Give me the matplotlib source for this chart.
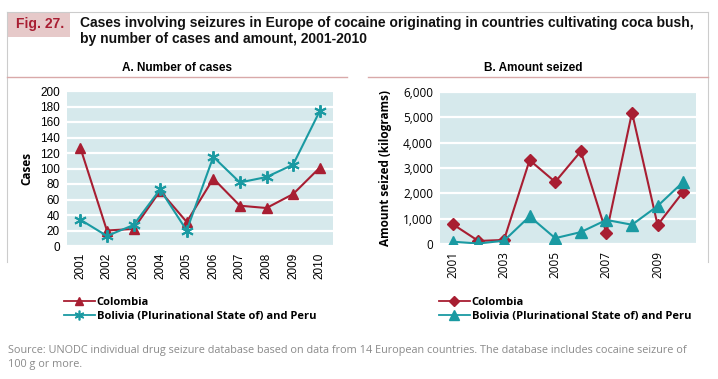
import matplotlib
matplotlib.use("Agg")
import matplotlib.pyplot as plt
from matplotlib.lines import Line2D
from matplotlib.patches import Rectangle

years = [2001, 2002, 2003, 2004, 2005, 2006, 2007, 2008, 2009, 2010]
cases_colombia = [127, 20, 22, 71, 31, 87, 52, 49, 67, 101]
cases_bolivia_peru = [34, 13, 27, 73, 20, 115, 82, 89, 105, 174]
amount_colombia = [780, 120, 160, 3310, 2450, 3660, 430, 5190, 750, 2060]
amount_bolivia_peru = [90, 20, 130, 1090, 230, 470, 950, 760, 1500, 2450]
cases_yticks = list(range(0, 201, 20))
amount_yticks = [0, 1000, 2000, 3000, 4000, 5000, 6000]
amount_xticks = [2001, 2003, 2005, 2007, 2009]
series_labels = ["Colombia", "Bolivia (Plurinational State of) and Peru"]

RED = "#A81E32"
TEAL = "#1A9AA2"
BG = "#D6E9EC"
LINE_PINK = "#D9A9A9"
FR = "#CCCCCC"
ASTER = (6, 2, 0)

W, H = 718, 379
fig = plt.figure(figsize=(W / 100, H / 100), dpi=100)

def fx(x):
    return x / W

def fy(y):
    return 1 - y / H

# frame and header
fig.add_artist(Line2D([fx(7), fx(708)], [fy(12), fy(12)], color=FR, lw=0.8))
fig.add_artist(Line2D([fx(7), fx(7)], [fy(12), fy(262)], color=FR, lw=0.8))
fig.add_artist(Line2D([fx(708), fx(708)], [fy(12), fy(262)], color=FR, lw=0.8))
fig.add_artist(Rectangle((fx(7), fy(37)), fx(63), 25 / H, color="#E6C9C9", lw=0))
fig.text(fx(16), fy(24), "Fig. 27.", color=RED, fontsize=10, fontweight="bold",
         family="Liberation Sans", va="center", ha="left")
fig.text(fx(80), fy(23), "Cases involving seizures in Europe of cocaine originating in countries cultivating coca bush,",
         fontsize=10, fontweight="bold", family="Liberation Sans", va="center", ha="left", color="#111111")
fig.text(fx(80), fy(39), "by number of cases and amount, 2001-2010",
         fontsize=10, fontweight="bold", family="Liberation Sans", va="center", ha="left", color="#111111")

# panel titles
fig.text(fx(177), fy(68), "A. Number of cases", fontsize=8.5, fontweight="bold",
         family="Liberation Sans", ha="center", va="center")
fig.text(fx(533), fy(68), "B. Amount seized", fontsize=8.5, fontweight="bold",
         family="Liberation Sans", ha="center", va="center")
fig.add_artist(Line2D([fx(7), fx(347)], [fy(76.5), fy(76.5)], color=LINE_PINK, lw=1))
fig.add_artist(Line2D([fx(368), fx(708)], [fy(76.5), fy(76.5)], color=LINE_PINK, lw=1))

# Axes A
axA = fig.add_axes([fx(67), fy(246), (333 - 67) / W, (246 - 91) / H])
axA.set_facecolor(BG)
axA.plot(years, cases_colombia, color=RED, lw=1.5, marker="^", ms=7, zorder=3)
axA.plot(years, cases_bolivia_peru, color=TEAL, lw=1.5, marker=ASTER, ms=9, mew=1.4, zorder=3)
axA.set_xlim(2000.5, 2010.5)
axA.set_ylim(0, 200)
axA.set_yticks(cases_yticks)
axA.set_xticks(years)
axA.set_xticklabels([str(y) for y in years], rotation=90, family="Liberation Sans", fontsize=8.5)
axA.set_yticklabels([str(v) for v in cases_yticks], family="Liberation Sans", fontsize=8.5)
axA.grid(axis="y", color="white", lw=1.6)
axA.set_axisbelow(True)
for s in axA.spines.values():
    s.set_visible(False)
axA.tick_params(length=0, pad=5)
axA.set_ylabel("Cases", fontsize=8.5, fontweight="bold", family="Open Sans", labelpad=5)

# Axes B
axB = fig.add_axes([fx(440), fy(244), (696 - 440) / W, (244 - 92) / H])
axB.set_facecolor(BG)
axB.plot(years, amount_colombia, color=RED, lw=1.5, marker="D", ms=6, zorder=3)
axB.plot(years, amount_bolivia_peru, color=TEAL, lw=1.5, marker="^", ms=8, zorder=3)
axB.set_xlim(2000.5, 2010.5)
axB.set_ylim(0, 6000)
axB.set_yticks(amount_yticks)
axB.set_yticklabels([f"{v:,}" for v in amount_yticks], family="Open Sans", fontsize=8.5)
axB.set_xticks(amount_xticks)
axB.set_xticklabels([str(y) for y in amount_xticks], rotation=90, family="Open Sans", fontsize=8.5)
axB.grid(axis="y", color="white", lw=1.6)
axB.set_axisbelow(True)
for s in axB.spines.values():
    s.set_visible(False)
axB.tick_params(length=0, pad=5)
axB.set_ylabel("Amount seized (kilograms)", fontsize=8.5, fontweight="bold", family="Open Sans", labelpad=8)

# legends
hA = [Line2D([], [], color=RED, lw=1.3, marker="^", ms=6),
      Line2D([], [], color=TEAL, lw=1.3, marker=ASTER, ms=7, mew=1.2)]
hB = [Line2D([], [], color=RED, lw=1.3, marker="D", ms=5),
      Line2D([], [], color=TEAL, lw=1.3, marker="^", ms=7)]
leg_kw = dict(loc="upper left", frameon=False,
              prop={"family": "Open Sans", "weight": "bold", "size": 8},
              handlelength=2.75, handletextpad=0.2, labelspacing=0.3,
              borderaxespad=0, borderpad=0)
fig.legend(handles=hA, labels=series_labels, bbox_to_anchor=(fx(64), fy(297)), **leg_kw)
fig.legend(handles=hB, labels=series_labels, bbox_to_anchor=(fx(439), fy(297)), **leg_kw)

fig.text(fx(8), fy(350), "Source: UNODC individual drug seizure database based on data from 14 European countries. The database includes cocaine seizure of",
         fontsize=7.8, color="#8A8A8A", family="Open Sans", va="center", ha="left")
fig.text(fx(8), fy(364), "100 g or more.", fontsize=7.8, color="#8A8A8A", family="Open Sans", va="center", ha="left")

fig.savefig("out.png", dpi=100)
